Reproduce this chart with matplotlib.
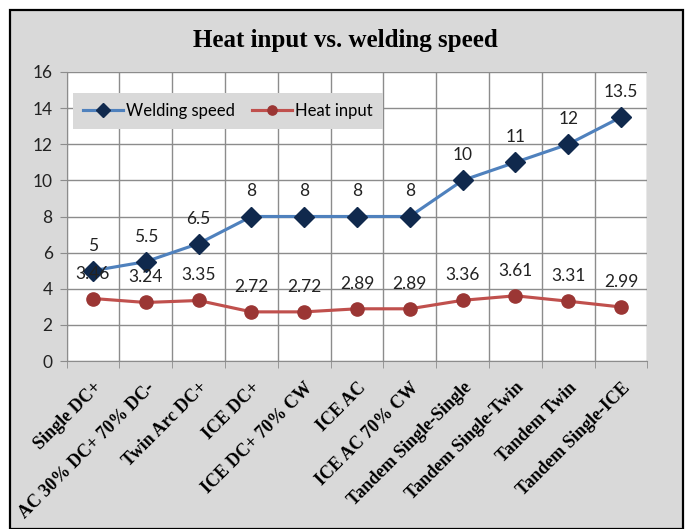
import matplotlib
matplotlib.use("Agg")
import matplotlib.pyplot as plt
from matplotlib.patches import Rectangle
import numpy as np

categories = ["Single DC+", "AC 30% DC+ 70% DC-", "Twin Arc DC+", "ICE DC+",
              "ICE DC+ 70% CW", "ICE AC", "ICE AC 70% CW", "Tandem Single-Single",
              "Tandem Single-Twin", "Tandem Twin", "Tandem Single-ICE"]
welding_speed = [5, 5.5, 6.5, 8, 8, 8, 8, 10, 11, 12, 13.5]
heat_input = [3.46, 3.24, 3.35, 2.72, 2.72, 2.89, 2.89, 3.36, 3.61, 3.31, 2.99]
speed_labels = ["5", "5.5", "6.5", "8", "8", "8", "8", "10", "11", "12", "13.5"]
heat_labels = ["3.46", "3.24", "3.35", "2.72", "2.72", "2.89", "2.89", "3.36", "3.61", "3.31", "2.99"]
yticks = [0, 2, 4, 6, 8, 10, 12, 14, 16]

W, H = 686, 529
fig = plt.figure(figsize=(W / 100, H / 100), dpi=100)
fig.patch.set_facecolor("white")
fig.patches.append(Rectangle((10 / W, 0), (683 - 10) / W, (529 - 10) / H,
                             transform=fig.transFigure, facecolor="#d9d9d9",
                             edgecolor="black", linewidth=1.6, zorder=-10))

left, right, top, bottom = 66.6, 647.4, 72, 361
ax = fig.add_axes([left / W, 1 - bottom / H, (right - left) / W, (bottom - top) / H])
ax.set_facecolor("white")

x = np.arange(len(categories))
ax.set_xlim(-0.5, len(categories) - 0.5)
ax.set_ylim(0, 16)

grid_c = "#8c8c8c"
ax.set_yticks(yticks)
ax.set_yticklabels([str(v) for v in yticks], fontfamily="Lato", fontsize=12.5, color="#222222")
ax.set_xticks(x)
ax.set_xticklabels(categories, rotation=45, ha="right", rotation_mode="anchor",
                   fontfamily="Liberation Serif", fontweight="bold", fontsize=13)
ax.tick_params(axis="x", length=0, pad=13)
ax.set_xticks(np.arange(-0.5, len(categories), 1), minor=True)
ax.tick_params(axis="x", which="minor", length=5, color=grid_c, direction="out")
ax.tick_params(axis="y", length=5, color=grid_c, direction="out", pad=5)
ax.grid(True, axis="y", which="major", color=grid_c, linewidth=1)
ax.grid(True, axis="x", which="minor", color=grid_c, linewidth=1)
ax.set_axisbelow(True)
for s in ["top", "right"]:
    ax.spines[s].set_visible(False)
for s in ["left", "bottom"]:
    ax.spines[s].set_color(grid_c)

ax.plot(x, welding_speed, color="#4f81bd", linewidth=2.25, marker="D", markersize=10,
        markerfacecolor="#10294d", markeredgecolor="#10294d", label="Welding speed", zorder=3)
ax.plot(x, heat_input, color="#c0504d", linewidth=2.25, marker="o", markersize=9.5,
        markerfacecolor="#9b3634", markeredgecolor="#9b3634", label="Heat input", zorder=3)

for xi, v, t in zip(x, welding_speed, speed_labels):
    ax.annotate(t, (xi, v), xytext=(0, 18), textcoords="offset points", ha="center",
                va="center", fontfamily="Lato", fontsize=12.5, color="#222222", zorder=4)
for xi, v, t in zip(x, heat_input, heat_labels):
    ax.annotate(t, (xi, v), xytext=(0, 18), textcoords="offset points", ha="center",
                va="center", fontfamily="Lato", fontsize=12.5, color="#222222", zorder=4)

leg = ax.legend(loc="upper left", bbox_to_anchor=((73 - left) / (right - left), 1 - (93 - top) / (bottom - top)),
                ncol=2, frameon=True, fancybox=False, borderaxespad=0,
                prop={"family": "Lato", "size": 12}, handlelength=2.4, columnspacing=1.0,
                handletextpad=0.2, borderpad=0.6, markerscale=0.7)
leg.get_frame().set_facecolor("#d9d9d9")
leg.get_frame().set_edgecolor("none")
leg.get_frame().set_alpha(1)

fig.text(345 / W, 1 - 40 / H, "Heat input vs. welding speed", ha="center", va="center",
         fontfamily="Liberation Serif", fontweight="bold", fontsize=18)

fig.savefig("out.png", dpi=100)
